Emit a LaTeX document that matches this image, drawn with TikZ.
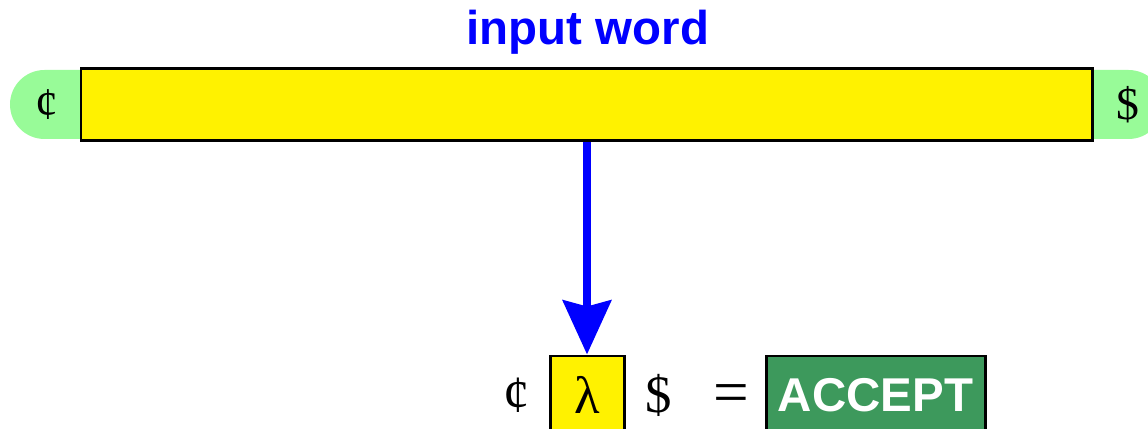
\documentclass[tikz,border=0pt]{standalone}
\usepackage{fontspec}
\setmainfont{Liberation Serif}
\setsansfont{Liberation Sans}
\usepackage{xcolor}
\definecolor{capgreen}{RGB}{152,251,152}
\definecolor{okgreen}{RGB}{61,153,92}
\usetikzlibrary{arrows.meta,positioning}

\begin{document}
\begin{tikzpicture}[>={Stealth[width=0.96cm,length=1.08cm,inset=0.12cm]}, every node/.style={inner sep=0pt}]
    \tikzstyle{cell}=[draw=black, line width=1.7pt, fill=yellow, minimum height=1.44cm]
    \tikzstyle{endmark}=[font=\fontsize{26}{30}\selectfont]
    \tikzstyle{sym}=[font=\fontsize{30}{34}\selectfont]

    \useasboundingbox (0,0) rectangle (22.96,8.58);
    \clip (0,0) rectangle (22.96,8.58);

    % Tape with end markers
    \node[fill=capgreen, rounded corners=0.69cm, minimum width=23.06cm, minimum height=1.38cm] (tape) at (11.73,6.49) {};
    \node[cell, minimum width=20.22cm] (word) at (11.73,6.48) {};
    \node[endmark] (lcap) at (0.94,6.48) {¢};
    \node[endmark] (rcap) at (22.56,6.48) {\$};
    \node[anchor=base, font=\sffamily\bfseries\fontsize{27}{32}\selectfont, text=blue] (title) at (11.76,7.68) {input word};

    % Result row
    \node[cell, minimum width=1.48cm, minimum height=1.56cm, sym] (lam) at (11.74,0.68) {λ};
    \node[sym] (lsym) at (10.34,0.68) {¢};
    \node[sym] (rsym) at (13.18,0.68) {\$};
    \node[font=\fontsize{36}{40}\selectfont] (eq) at (14.62,0.6) {=};
    \node[draw=black, line width=1.7pt, fill=okgreen, minimum width=4.38cm, minimum height=1.56cm,
          text=white, font=\sffamily\bfseries\fontsize{27}{32}\selectfont] (accept) at (17.51,0.68) {ACCEPT};

    % Reading arrow
    \draw[->, blue, line width=0.17cm] (lam.north |- word.south) -- (lam.north);
\end{tikzpicture}
\end{document}
